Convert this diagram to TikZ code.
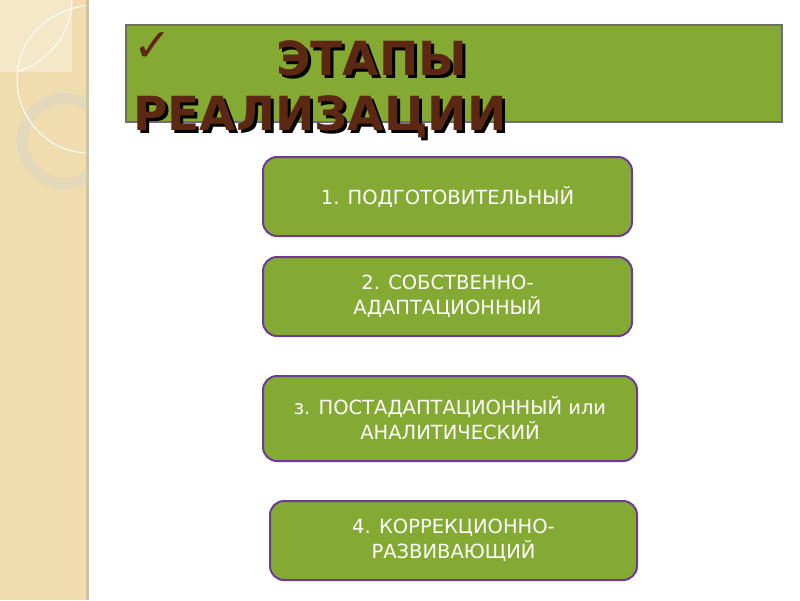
\documentclass[tikz,border=0pt]{standalone}
\usepackage{fontspec}
\setmainfont{DejaVu Sans}
\newfontfamily\titlefont{DejaVu Sans}
\newfontfamily\symfont{DejaVu Sans}
\definecolor{stripbg}{HTML}{EFDDB0}
\definecolor{stripedge}{HTML}{CFC3A2}
\definecolor{stripleaf}{HTML}{F4E8C9}
\definecolor{stripring}{HTML}{E4D8BA}
\definecolor{boxgreen}{HTML}{84AA33}
\definecolor{boxpurple}{HTML}{6C3B96}
\definecolor{titlebrown}{HTML}{5C2814}
\definecolor{titleborder}{HTML}{6E6E6E}
\tikzset{
  stagebox/.style={draw=boxpurple, line width=2pt, fill=boxgreen, rounded corners=14pt,
    text=white, align=center, font=\fontsize{19.5}{25}\selectfont, inner sep=0pt},
  titletext/.style={anchor=base west, inner sep=0pt, font=\titlefont\bfseries\fontsize{47}{47}\selectfont},
}
\begin{document}
\begin{tikzpicture}[x=1pt,y=-1pt]
\useasboundingbox (0,0) rectangle (800,600);
\fill[white] (0,0) rectangle (800,600);
% left decorative strip
\fill[stripbg] (0,0) rectangle (86,600);
\fill[stripedge] (86,0) rectangle (89,600);
\begin{scope}
\clip (0,0) rectangle (86,600);
\fill[stripleaf] (0,0) rectangle (72,72);
\fill[stripring, even odd rule] (65,141) circle[radius=48] (65,141) circle[radius=37];
\draw[white, line width=1pt] (88,5) .. controls (40,12) and (17,45) .. (17,79) .. controls (17,120) and (50,153) .. (88,153);
\draw[white, line width=1pt] (17,72) .. controls (45,62) and (70,40) .. (72,0);
\end{scope}
% title box
\node[draw=titleborder, line width=1.2pt, fill=boxgreen, minimum width=656pt, minimum height=97pt, inner sep=0pt] (titlebox) at (454,73.5) {};
\node[anchor=center, inner sep=0pt, text=titlebrown, font=\symfont\fontsize{46}{46}\selectfont] (check) at (153,47) {✓};
\node[titletext, text=black] (t1s) at (279,78) {ЭТАПЫ};
\node[titletext, text=titlebrown] (t1) at (276,75) {ЭТАПЫ};
\node[titletext, text=black] (t2s) at (136,133) {РЕАЛИЗАЦИИ};
\node[titletext, text=titlebrown] (t2) at (133,130) {РЕАЛИЗАЦИИ};
% stages
\node[stagebox, minimum width=369pt, minimum height=79pt] (s1) at (447.5,196.5) {1. ПОДГОТОВИТЕЛЬНЫЙ};
\node[stagebox, minimum width=369pt, minimum height=79pt] (s2) at (447.5,296.5) {2. СОБСТВЕННО-\\АДАПТАЦИОННЫЙ};
\node[stagebox, minimum width=374pt, minimum height=85pt] (s3) at (450,418.5) {з. ПОСТАДАПТАЦИОННЫЙ или\\АНАЛИТИЧЕСКИЙ};
\node[stagebox, minimum width=367pt, minimum height=79pt] (s4) at (453.5,540.5) {4. КОРРЕКЦИОННО-\\РАЗВИВАЮЩИЙ};
\end{tikzpicture}
\end{document}
